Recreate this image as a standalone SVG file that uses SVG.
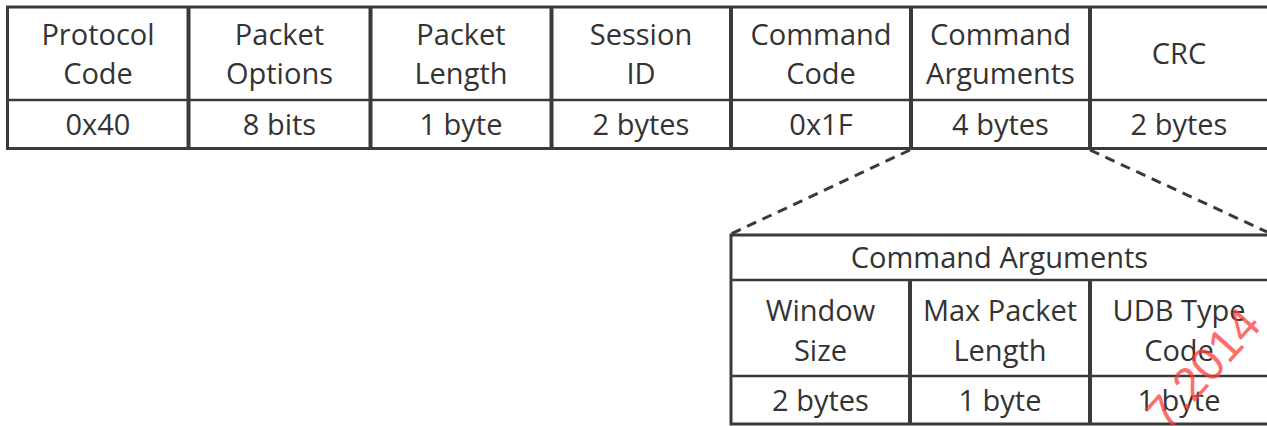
<svg xmlns="http://www.w3.org/2000/svg" width="1267" height="426" viewBox="0 0 1267 426">
  <style>
    .frame { fill: none; stroke: #3a3a3a; stroke-width: 3; }
    .col { stroke: #3a3a3a; stroke-width: 4; }
    .row { stroke: #3a3a3a; stroke-width: 2.5; }
    .lbl { font-family: "Open Sans", "Liberation Sans", sans-serif; font-size: 29px; fill: #333; text-anchor: middle; }
    .zoom { fill: none; stroke: #3a3a3a; stroke-width: 3; stroke-dasharray: 10 7; }
    .stamp { font-family: "Liberation Sans", sans-serif; font-size: 47px; fill: #ff3b3b; fill-opacity: 0.75; }
  </style>
  <rect width="1267" height="426" fill="#fff"/>

  <!-- packet layout -->
  <g id="packet">
    <rect class="frame" x="7.5" y="7" width="1270" height="141.5"/>
    <line class="row" x1="7.5" y1="100" x2="1270" y2="100"/>
    <line class="col" x1="188.5" y1="7" x2="188.5" y2="148.5"/>
    <line class="col" x1="370.5" y1="7" x2="370.5" y2="148.5"/>
    <line class="col" x1="551.5" y1="7" x2="551.5" y2="148.5"/>
    <line class="col" x1="731" y1="7" x2="731" y2="148.5"/>
    <line class="col" x1="911" y1="7" x2="911" y2="148.5"/>
    <line class="col" x1="1090" y1="7" x2="1090" y2="148.5"/>
  </g>

  <g id="field-protocol-code">
    <text class="lbl" x="98" y="45">Protocol</text>
    <text class="lbl" x="98" y="84">Code</text>
    <text class="lbl" x="98" y="135">0x40</text>
  </g>
  <g id="field-packet-options">
    <text class="lbl" x="279.5" y="45">Packet</text>
    <text class="lbl" x="279.5" y="84">Options</text>
    <text class="lbl" x="279.5" y="135">8 bits</text>
  </g>
  <g id="field-packet-length">
    <text class="lbl" x="461" y="45">Packet</text>
    <text class="lbl" x="461" y="84">Length</text>
    <text class="lbl" x="461" y="135">1 byte</text>
  </g>
  <g id="field-session-id">
    <text class="lbl" x="641" y="45">Session</text>
    <text class="lbl" x="641" y="84">ID</text>
    <text class="lbl" x="641" y="135">2 bytes</text>
  </g>
  <g id="field-command-code">
    <text class="lbl" x="821" y="45">Command</text>
    <text class="lbl" x="821" y="84">Code</text>
    <text class="lbl" x="821" y="135">0x1F</text>
  </g>
  <g id="field-command-arguments">
    <text class="lbl" x="1000.5" y="45">Command</text>
    <text class="lbl" x="1000.5" y="84">Arguments</text>
    <text class="lbl" x="1000.5" y="135">4 bytes</text>
  </g>
  <g id="field-crc">
    <text class="lbl" x="1179" y="64">CRC</text>
    <text class="lbl" x="1179" y="135">2 bytes</text>
  </g>

  <!-- expansion lines -->
  <g id="connectors">
    <line class="zoom" x1="910" y1="150" x2="731" y2="234"/>
    <line class="zoom" x1="1090" y1="150" x2="1267" y2="232"/>
  </g>

  <!-- command arguments breakdown -->
  <g id="arguments">
    <rect class="frame" x="731" y="235" width="540" height="189"/>
    <line class="row" x1="731" y1="280" x2="1270" y2="280"/>
    <line class="row" x1="731" y1="376" x2="1270" y2="376"/>
    <line class="col" x1="910" y1="280" x2="910" y2="424"/>
    <line class="col" x1="1090" y1="280" x2="1090" y2="424"/>
  </g>
  <g id="arguments-title">
    <text class="lbl" x="999.5" y="268">Command Arguments</text>
  </g>
  <g id="arg-window-size">
    <text class="lbl" x="820.5" y="321">Window</text>
    <text class="lbl" x="820.5" y="361">Size</text>
    <text class="lbl" x="820.5" y="411">2 bytes</text>
  </g>
  <g id="arg-max-packet-length">
    <text class="lbl" x="1000" y="321">Max Packet</text>
    <text class="lbl" x="1000" y="361">Length</text>
    <text class="lbl" x="1000" y="411">1 byte</text>
  </g>
  <g id="arg-udb-type-code">
    <text class="lbl" x="1179" y="321">UDB Type</text>
    <text class="lbl" x="1179" y="361">Code</text>
    <text class="lbl" x="1179" y="411">1 byte</text>
  </g>

  <text class="stamp" transform="translate(1167 433) rotate(-48)">7.2014</text>
</svg>
